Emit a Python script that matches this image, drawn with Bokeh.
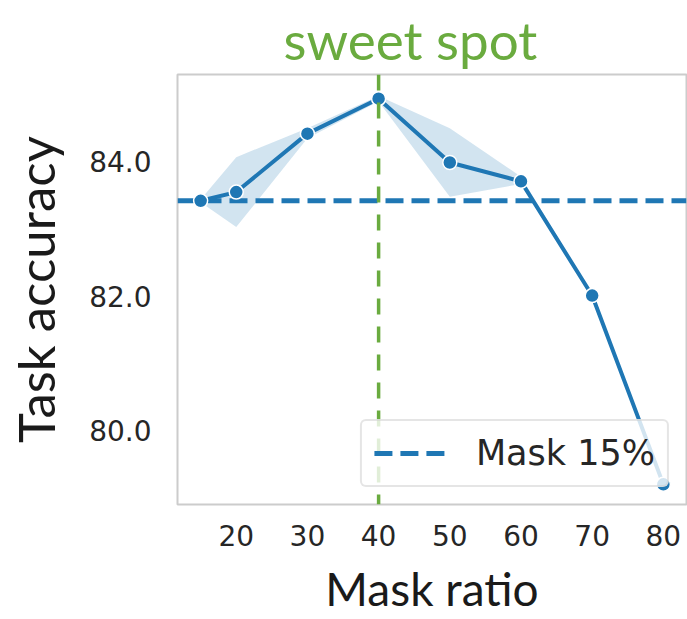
from bokeh.plotting import figure
from bokeh.models import Range1d, FixedTicker, Span, Legend, LegendItem, ColumnDataSource, NumeralTickFormatter
from bokeh.embed import file_html
from bokeh.resources import INLINE

mask_ratio = [15, 20, 30, 40, 50, 60, 70, 80]
accuracy = [83.42, 83.55, 84.42, 84.94, 83.99, 83.71, 82.01, 79.20]
acc_lower = [83.40, 83.03, 84.35, 84.90, 83.48, 83.67, 81.99, 79.18]
acc_upper = [83.44, 84.07, 84.50, 84.98, 84.50, 83.78, 82.03, 79.22]
baseline_mask = 15
sweet_spot = 40
x_ticks = [20, 30, 40, 50, 60, 70, 80]
y_ticks = [80, 82, 84]

BLUE = "#1f77b4"
GREEN = "#6aab3f"

baseline = accuracy[mask_ratio.index(baseline_mask)]
xspan = max(mask_ratio) - min(mask_ratio)
x_lo, x_hi = min(mask_ratio) - 0.05 * xspan, max(mask_ratio) + 0.05 * xspan

p = figure(width=687, height=619, output_backend="svg", toolbar_location=None,
           x_range=Range1d(x_lo, x_hi), y_range=Range1d(78.9, 85.3),
           min_border_left=177, min_border_right=1, min_border_top=74, min_border_bottom=115)
p.background_fill_color = "white"
p.border_fill_color = "white"
p.outline_line_color = "#cccccc"
p.outline_line_width = 2
p.xgrid.visible = False
p.ygrid.visible = False

p.title.text = "sweet spot"
p.title.text_font = "Lato"
p.title.text_font_size = "53px"
p.title.text_font_style = "normal"
p.title.text_color = GREEN
p.title.align = "left"
p.title.offset = 106
p.title.standoff = 8

src = ColumnDataSource(dict(x=mask_ratio, y=accuracy, lo=acc_lower, hi=acc_upper))
p.varea(x="x", y1="lo", y2="hi", source=src, fill_color=BLUE, fill_alpha=0.2)

vline = Span(location=sweet_spot, dimension="height", line_color=GREEN, line_width=3.5, line_dash="16 12")
p.add_layout(vline)

hl = p.line(x=[x_lo, x_hi], y=[baseline, baseline], line_color=BLUE, line_width=5, line_dash="18 8")

p.line(x="x", y="y", source=src, line_color=BLUE, line_width=4)
p.scatter(x="x", y="y", source=src, size=14, fill_color=BLUE, line_color="white", line_width=1.5)

for ax in (p.xaxis[0], p.yaxis[0]):
    ax.axis_line_color = None
    ax.major_tick_line_color = None
    ax.minor_tick_line_color = None
    ax.major_label_text_font = "DejaVu Sans"
    ax.major_label_text_font_size = "28px"
    ax.major_label_text_color = "#262626"
    ax.axis_label_text_font = "Lato"
    ax.axis_label_text_font_style = "normal"
    ax.axis_label_text_color = "#1a1a1a"

p.xaxis.ticker = FixedTicker(ticks=x_ticks)
p.yaxis.ticker = FixedTicker(ticks=y_ticks)
p.yaxis.formatter = NumeralTickFormatter(format="0.0")
p.xaxis.axis_label = "Mask ratio"
p.yaxis.axis_label = "Task accuracy"
p.xaxis.axis_label_text_font_size = "46px"
p.yaxis.axis_label_text_font_size = "51px"
p.xaxis.major_label_standoff = 14
p.yaxis.major_label_standoff = 20
p.xaxis.axis_label_standoff = 12
p.yaxis.axis_label_standoff = 20

legend = Legend(items=[LegendItem(label="Mask 15%", renderers=[hl])], location="bottom_right")
legend.margin = 17
legend.padding = 12
legend.glyph_width = 72
legend.glyph_height = 40
legend.label_height = 40
legend.label_standoff = 30
legend.label_text_font = "DejaVu Sans"
legend.label_text_font_size = "35px"
legend.label_text_color = "#262626"
legend.border_line_color = "#cccccc"
legend.border_line_width = 2
legend.border_radius = 6
legend.background_fill_alpha = 0.8
p.add_layout(legend)

open("out.html", "w").write(file_html(p, INLINE))
